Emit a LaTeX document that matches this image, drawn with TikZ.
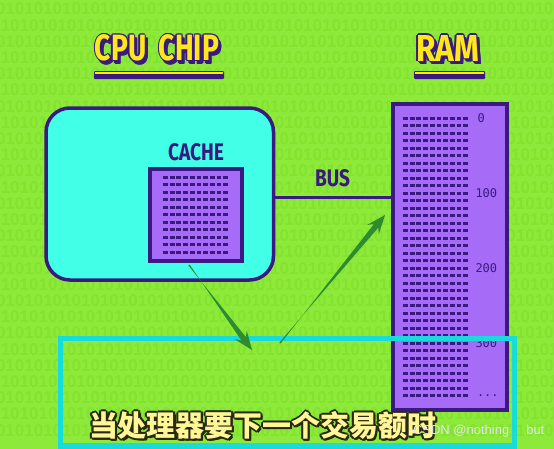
\documentclass[tikz,border=0pt]{standalone}
\usepackage{fontspec}
\usepackage{graphicx}
\usetikzlibrary{calc}
\newfontfamily\titlefont{Fira Sans}
\newfontfamily\binfont{Liberation Sans}
\newfontfamily\numfont{DejaVu Sans Mono}
\newfontfamily\wmfont{Liberation Sans}
\newfontfamily\cjk{Noto Sans CJK SC}
\definecolor{bg}{RGB}{142,234,58}
\definecolor{bindig}{RGB}{131,227,46}
\definecolor{cpucyan}{RGB}{66,255,232}
\definecolor{darkpurple}{RGB}{58,26,128}
\definecolor{cellpurple}{RGB}{166,108,247}
\definecolor{titleyellow}{RGB}{255,232,26}
\definecolor{hlcyan}{RGB}{24,220,220}
\definecolor{arrowgreen}{RGB}{46,139,48}
\definecolor{subyellow}{RGB}{255,246,150}
\definecolor{suboutline}{RGB}{40,40,20}
\tikzset{
  plain/.style={inner sep=0pt, outer sep=0pt},
  bin/.style={plain, text=bindig, font=\binfont\bfseries\fontsize{17}{17}\selectfont},
  boxline/.style={draw=darkpurple, line width=3.5pt},
  cpubox/.style={boxline, fill=cpucyan, rounded corners=24pt, plain},
  cellbox/.style={draw=darkpurple, line width=4pt, fill=cellpurple, plain},
  dashrow/.style={draw=darkpurple, line width=3pt, dash pattern=on 4.8pt off 1.9pt},
  num/.style={plain, anchor=west, text=darkpurple, font=\numfont\fontsize{12}{12}\selectfont},
  hlbox/.style={draw=hlcyan, line width=5.5pt, plain},
  wm/.style={plain, anchor=west, text=white!80!gray, font=\wmfont\fontsize{13}{13}\selectfont},
}
\newcommand\outlinedtext[7]{%
  \foreach \dx/\dy [count=\k] in #7 {\node[plain,text=#6] (#1-o\k) at ($(#2,#3)+(\dx,\dy)$) {#4};}
  \node[plain,text=#5] (#1) at (#2,#3) {#4};}
\newcommand\taperarrow[2]{%
  \coordinate (#1s) at ($(#2)!14pt!(#1)$);
  \coordinate (#1h) at ($(#2)!19pt!(#1)$);
  \fill[arrowgreen] ($(#1)!0.8pt!90:(#2)$) -- ($(#1s)!2.8pt!90:(#1)$) -- ($(#1h)!7.5pt!90:(#1)$)
    -- (#2) -- ($(#1h)!7.5pt!-90:(#1)$) -- ($(#1s)!2.8pt!-90:(#1)$) -- ($(#1)!0.8pt!-90:(#2)$) -- cycle;}
\def\titleoffsets{1.3/0,-1.3/0,0/1.3,0/-1.3,0.9/0.9,-0.9/0.9,0.9/-0.9,-0.9/-0.9,1.5/2.5,2.5/3,3/3.5,2/3.5,3/2.5,3.5/3}
\def\suboffsets{2/0,-2/0,0/2,0/-2,1.4/1.4,-1.4/1.4,1.4/-1.4,-1.4/-1.4,1.5/2.2,2.2/2.2}
\begin{document}
\begin{tikzpicture}[x=1pt,y=-1pt]
\useasboundingbox (0,0) rectangle (554,448);
\fill[bg] (-3,-3) rectangle (557,451);
% binary texture
\begin{scope}
\clip (0,0) rectangle (554,448);
\foreach \r in {0,...,26} {
  \node[bin,anchor=west] (bin\r) at ({-4-4.7*mod(\r,2)},{9+16.2*\r}) {01010101010101010101010101010101010101010101010101010101010101};
}
\end{scope}
% CPU chip
\node[cpubox, minimum width=227.5pt, minimum height=172pt] (cpu) at (159.75,194) {};
\node[cellbox, minimum width=91.5pt, minimum height=91.5pt] (cache) at (195.75,214.75) {};
\foreach \i in {0,...,10} \draw[dashrow] (163,{177+7.5*\i}) -- (229.5,{177+7.5*\i});
\node[plain, text=darkpurple] (cachelbl) at (196,152.5) {\resizebox{56pt}{17pt}{\titlefont\bfseries CACHE}};
% RAM
\node[cellbox, line width=3.8pt, minimum width=114pt, minimum height=306pt] (ram) at (450,257) {};
\foreach \i in {0,...,37} \draw[dashrow] (403,{118+7.51*\i}) -- (469.5,{118+7.51*\i});
\node[num] (n0) at (477.5,118) {0};
\node[num] (n100) at (475.5,193.1) {100};
\node[num] (n200) at (475.5,268.2) {200};
\node[num] (n300) at (475.5,343.3) {300};
\node[num] (ndots) at (477,396) {...};
% bus
\coordinate (busy) at (0,197);
\draw[darkpurple, line width=3pt] (cpu.east |- busy) -- (ram.west |- busy);
\node[plain, text=darkpurple] (buslbl) at (332.5,178.5) {\resizebox{35pt}{17pt}{\titlefont\bfseries BUS}};
% titles
\outlinedtext{cputitle}{157}{48}{\resizebox{124pt}{26pt}{\titlefont\bfseries CPU\hspace{0.45em}CHIP}}{titleyellow}{darkpurple}{\titleoffsets}
\outlinedtext{ramtitle}{447.5}{48}{\resizebox{63pt}{26pt}{\titlefont\bfseries RAM}}{titleyellow}{darkpurple}{\titleoffsets}
\fill[darkpurple, rounded corners=1pt] (94,71) rectangle (224,79);
\fill[titleyellow] (95,71.8) rectangle (223,74.3);
\fill[darkpurple, rounded corners=1pt] (414,71) rectangle (485,79);
\fill[titleyellow] (415,71.8) rectangle (484,74.3);
% highlight
\node[hlbox, minimum width=454pt, minimum height=107.5pt] (hl) at (287.5,392.25) {};
% arrows
\coordinate (a1) at (189,265);
\coordinate (b1) at (252,350);
\coordinate (a2) at (280,343);
\coordinate (b2) at (385,215);
\taperarrow{a1}{b1}
\taperarrow{a2}{b2}
% subtitle
\outlinedtext{sub}{262.5}{425.5}{\resizebox{347pt}{!}{\cjk\bfseries 当处理器要下一个交易额时}}{subyellow}{suboutline}{\suboffsets}
% watermark
\node[wm] (wmark) at (413,431) {CSDN @nothing\hspace{17pt}but};
\end{tikzpicture}
\end{document}
